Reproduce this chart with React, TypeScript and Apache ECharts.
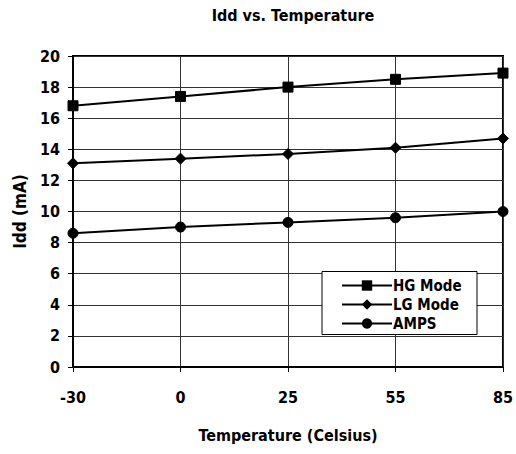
import React, { useEffect, useRef } from "react";
import * as echarts from "echarts";

const categories = ["-30", "0", "25", "55", "85"];
const hgMode = [16.8, 17.4, 18.0, 18.5, 18.9];
const lgMode = [13.1, 13.4, 13.7, 14.1, 14.7];
const amps = [8.6, 9.0, 9.3, 9.6, 10.0];

const FONT = "'DejaVu Sans Condensed', 'Liberation Sans', sans-serif";

export default function App() {
  const ref = useRef<HTMLDivElement>(null);
  useEffect(() => {
    if (!ref.current) return;
    const chart = echarts.init(ref.current, null, { renderer: "svg" });
    const lineSeries = (name: string, data: number[], symbol: string, size: number) => ({
      name,
      type: "line",
      data,
      symbol,
      symbolSize: size,
      showAllSymbol: true,
      z: 2,
      lineStyle: { color: "#000", width: 2 },
      itemStyle: { color: "#000", borderColor: "#000" },
      emphasis: { disabled: true },
    });
    chart.setOption({
      animation: false,
      backgroundColor: "#fff",
      textStyle: { fontFamily: FONT, fontWeight: "bold", color: "#000" },
      title: {
        text: "Idd vs. Temperature",
        left: 293,
        top: 7,
        padding: 0,
        textAlign: "center",
        textStyle: { fontFamily: FONT, fontWeight: "bold", fontSize: 16, color: "#000" },
      },
      grid: {
        left: 73,
        right: 12,
        top: 56,
        bottom: 87,
        show: true,
        borderColor: "#000",
        borderWidth: 2,
        backgroundColor: "transparent",
      },
      graphic: [
        {
          type: "rect",
          z: 10,
          shape: { x: 322, y: 271.5, width: 155, height: 63 },
          style: { fill: "#fff", stroke: "#000", lineWidth: 1 },
        },
      ],
      legend: {
        orient: "vertical",
        left: 341,
        top: 278,
        z: 20,
        padding: 0,
        itemWidth: 50,
        itemHeight: 13,
        itemGap: 4,
        selectedMode: false,
        data: ["HG Mode", "LG Mode", "AMPS"],
        textStyle: { fontFamily: FONT, fontWeight: "bold", fontSize: 15, color: "#000", padding: [0, 0, 0, -4] },
      },
      xAxis: {
        type: "category",
        data: categories,
        boundaryGap: false,
        name: "Temperature (Celsius)",
        nameLocation: "middle",
        nameGap: 60,
        nameTextStyle: { fontFamily: FONT, fontWeight: "bold", fontSize: 16, color: "#000" },
        axisLine: { lineStyle: { color: "#000", width: 2 } },
        axisTick: { show: true, length: 5, lineStyle: { color: "#000", width: 1 } },
        axisLabel: { fontFamily: FONT, fontWeight: "bold", fontSize: 16, color: "#000", margin: 22 },
        splitLine: { show: true, lineStyle: { color: "#333", width: 1 } },
      },
      yAxis: {
        type: "value",
        min: 0,
        max: 20,
        interval: 2,
        name: "Idd (mA)",
        nameLocation: "middle",
        nameGap: 45,
        nameRotate: 90,
        nameTextStyle: { fontFamily: FONT, fontWeight: "bold", fontSize: 17, color: "#000" },
        axisLine: { show: true, lineStyle: { color: "#000", width: 2 } },
        axisTick: { show: true, length: 5, lineStyle: { color: "#000", width: 1 } },
        axisLabel: { fontFamily: FONT, fontWeight: "bold", fontSize: 16, color: "#000", margin: 13 },
        splitLine: { show: true, lineStyle: { color: "#333", width: 1 } },
      },
      series: [
        lineSeries("HG Mode", hgMode, "rect", 10),
        lineSeries("LG Mode", lgMode, "diamond", 11),
        lineSeries("AMPS", amps, "circle", 10),
      ],
    });
    return () => chart.dispose();
  }, []);
  return <div ref={ref} style={{ width: 516, height: 454, position: "absolute", left: 0, top: 0 }} />;
}
